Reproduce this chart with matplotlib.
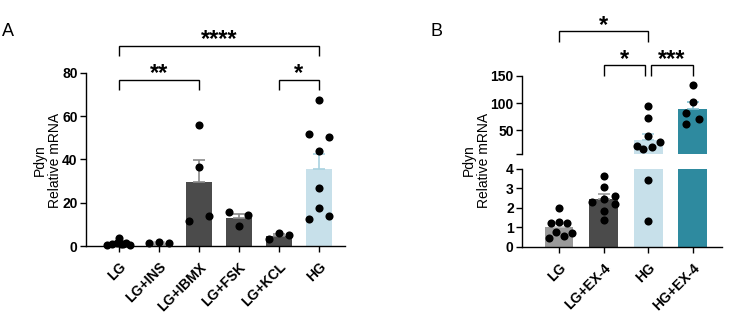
import matplotlib
matplotlib.use('Agg')
import matplotlib.pyplot as plt
import numpy as np

plt.rcParams['font.family'] = ['Liberation Sans', 'DejaVu Sans']

# ---------------- data ----------------
a_categories = ['LG', 'LG+INS', 'LG+IBMX', 'LG+FSK', 'LG+KCL', 'HG']
a_lg = [0.5, 1.0, 3.8, 1.5, 0.8, 1.2, 0.6, 0.9]
a_lg_ins = [1.2, 1.8, 1.5]
a_lg_ibmx = [55.7, 36.6, 11.4, 13.8]
a_lg_fsk = [15.5, 9.2, 14.3]
a_lg_kcl = [3.3, 5.8, 4.9]
a_hg = [67.2, 51.5, 50.3, 43.8, 26.9, 17.4, 12.5, 13.8]
a_yticks = [0, 20, 40, 60, 80]

b_categories = ['LG', 'LG+EX-4', 'HG', 'HG+EX-4']
b_lg = [1.98, 1.24, 1.29, 1.24, 0.77, 0.55, 0.46, 0.72]
b_lg_ex4 = [3.64, 3.09, 2.29, 2.46, 2.63, 2.20, 1.86, 1.38]
b_hg = [95, 73, 39, 20, 14, 18, 28, 3.45, 1.3]
b_hg_ex4 = [133.3, 102.5, 81, 70.4, 61]
b_low_yticks = [0, 1, 2, 3, 4]
b_high_yticks = [50, 100, 150]

# ---------------- style ----------------
a_groups = [a_lg, a_lg_ins, a_lg_ibmx, a_lg_fsk, a_lg_kcl, a_hg]
a_jitter = [[-0.30, -0.18, 0.0, -0.06, 0.10, 0.18, 0.28, 0.05],
            [-0.25, 0.0, 0.25],
            [0, 0, -0.25, 0.25],
            [-0.24, 0, 0.24],
            [-0.25, 0, 0.25],
            [0, -0.25, 0.25, 0, 0, 0, -0.25, 0.25]]
a_colors = ['#9a9a9a', '#9a9a9a', '#4b4b4b', '#4b4b4b', '#4b4b4b', '#c7e0ea']
a_ecolors = ['#bdbdbd', '#bdbdbd', '#8a8a8a', '#8a8a8a', '#8a8a8a', '#a9d2e0']

b_groups = [b_lg, b_lg_ex4, b_hg, b_hg_ex4]
b_jitter = [[0.0, -0.17, 0.0, 0.19, -0.06, 0.11, -0.23, 0.29],
            [0, 0, -0.25, 0, 0.26, 0.26, 0, 0],
            [0, 0, 0, -0.26, -0.11, 0.08, 0.26, 0, 0],
            [0, 0, -0.15, 0.15, -0.15]]
b_colors = ['#9a9a9a', '#4b4b4b', '#c7e0ea', '#2e8a9f']
b_ecolors = ['#c4c4c4', '#9a9a9a', '#a9d2e0', '#7fc0d0']

W, H = 731, 318
fig = plt.figure(figsize=(W / 100, H / 100), dpi=100)

def fx(px):
    return px / W

def fy(py):
    return 1 - py / H

LW = 1.0
TICKFS = 10
LABELFS = 10
STARFS = 17
BARW = 0.65
MS = 34

def style_axis(ax):
    for s in ['top', 'right']:
        ax.spines[s].set_visible(False)
    for s in ['left', 'bottom']:
        ax.spines[s].set_linewidth(LW)
    ax.tick_params(direction='out', length=4, width=LW, labelsize=TICKFS, pad=2)
    ax.tick_params(axis='x', pad=6)
    for lab in ax.get_yticklabels():
        lab.set_fontweight('bold')

def stats(vals):
    v = np.asarray(vals, dtype=float)
    return v.mean(), v.std(ddof=1) / np.sqrt(len(v))

def draw_groups(ax, groups, jitter, colors, ecolors, clip, lo=-np.inf, hi=np.inf):
    x = np.arange(len(groups))
    means = [stats(g)[0] for g in groups]
    sems = [stats(g)[1] for g in groups]
    ax.bar(x, means, width=BARW, color=colors, zorder=1)
    for i in range(len(groups)):
        if lo <= means[i] <= hi:
            ax.errorbar(x[i], means[i], yerr=[[0], [sems[i]]], fmt='none',
                        ecolor=ecolors[i], elinewidth=1.2, capsize=4.5,
                        capthick=1.2, zorder=2)
        v = np.asarray(groups[i], dtype=float)
        j = np.asarray(jitter[i], dtype=float)
        keep = (v >= lo) & (v <= hi)
        ax.scatter(x[i] + j[keep], v[keep], s=MS, color='black',
                   zorder=3, clip_on=clip, linewidths=0)

def bracket(ax, x1, x2, y, yleg, text, tcy_px, fs=STARFS):
    ax.plot([x1, x1, x2, x2], [yleg, y, y, yleg], color='black', lw=LW,
            clip_on=False, solid_capstyle='butt', solid_joinstyle='miter')
    # asterisk glyph centre sits ~0.57 em above the baseline
    em_px = fs * 100 / 72.0
    base_fig = fy(tcy_px + 0.57 * em_px)
    xd = ax.transData.transform(((x1 + x2) / 2, 0))[0]
    xf = fig.transFigure.inverted().transform((xd, 0))[0]
    fig.text(xf, base_fig, text, ha='center', va='baseline', fontsize=fs,
             fontweight='bold')

# ---------------- Panel A ----------------
axA = fig.add_axes([fx(86), fy(246), fx(345 - 86), (246 - 72.7) / H])
draw_groups(axA, a_groups, a_jitter, a_colors, a_ecolors, clip=False)
axA.set_ylim(0, 80)
axA.set_xlim(-0.83, len(a_categories) - 1 + 0.66)
axA.set_yticks(a_yticks)
axA.set_xticks(np.arange(len(a_categories)))
axA.set_xticklabels(a_categories, rotation=45, ha='right', va='top',
                    rotation_mode='anchor', fontweight='bold', fontsize=TICKFS)
style_axis(axA)

ua = 80 / (246 - 72.7)
def ay(py):
    return (246 - py) * ua
bracket(axA, 0, 2, ay(80), ay(90), '**', 67)
bracket(axA, 4, 5, ay(80), ay(90), '*', 67)
bracket(axA, 0, 5, ay(46.3), ay(56), '****', 33)

fig.text(fx(47.5), fy(160), 'Pdyn\nRelative mRNA', rotation=90, ha='center',
         va='center', fontsize=LABELFS, linespacing=1.1)
fig.text(fx(2), fy(32), 'A', fontsize=13, ha='left', va='center')

# ---------------- Panel B ----------------
b_low_top = 4
b_high_bottom = 5.6
axBl = fig.add_axes([fx(522), fy(246.7), fx(721.7 - 522), (246.7 - 169) / H])
axBh = fig.add_axes([fx(522), fy(154), fx(721.7 - 522), (154 - 76) / H])

draw_groups(axBl, b_groups, b_jitter, b_colors, b_ecolors, clip=True,
            lo=-np.inf, hi=b_low_top)
draw_groups(axBh, b_groups, b_jitter, b_colors, b_ecolors, clip=True,
            lo=b_high_bottom, hi=np.inf)

for ax in (axBl, axBh):
    ax.set_xlim(-0.83, len(b_categories) - 1 + 0.65)

axBl.set_ylim(0, b_low_top)
axBl.set_yticks(b_low_yticks)
axBl.set_xticks(np.arange(len(b_categories)))
axBl.set_xticklabels(b_categories, rotation=45, ha='right', va='top',
                     rotation_mode='anchor', fontweight='bold', fontsize=TICKFS)
style_axis(axBl)
for c in axBl.collections:
    c.set_clip_on(False)

axBh.set_ylim(b_high_bottom, 150)
axBh.set_yticks([b_high_bottom] + b_high_yticks)
axBh.set_yticklabels([''] + [str(t) for t in b_high_yticks])
style_axis(axBh)
axBh.spines['bottom'].set_visible(False)
axBh.tick_params(axis='x', bottom=False, labelbottom=False)

ub = 50 / 27.0
def by(py):
    return 150 + (76 - py) * ub
bracket(axBh, 1, 1.93, by(65), by(76), '*', 53)
bracket(axBh, 2.07, 3, by(65), by(76), '***', 53)
bracket(axBh, 0, 2, by(31), by(41.7), '*', 19)

fig.text(fx(476), fy(160), 'Pdyn\nRelative mRNA', rotation=90, ha='center',
         va='center', fontsize=LABELFS, linespacing=1.1)
fig.text(fx(431), fy(32), 'B', fontsize=13, ha='left', va='center')

fig.savefig('out.png', dpi=100)
